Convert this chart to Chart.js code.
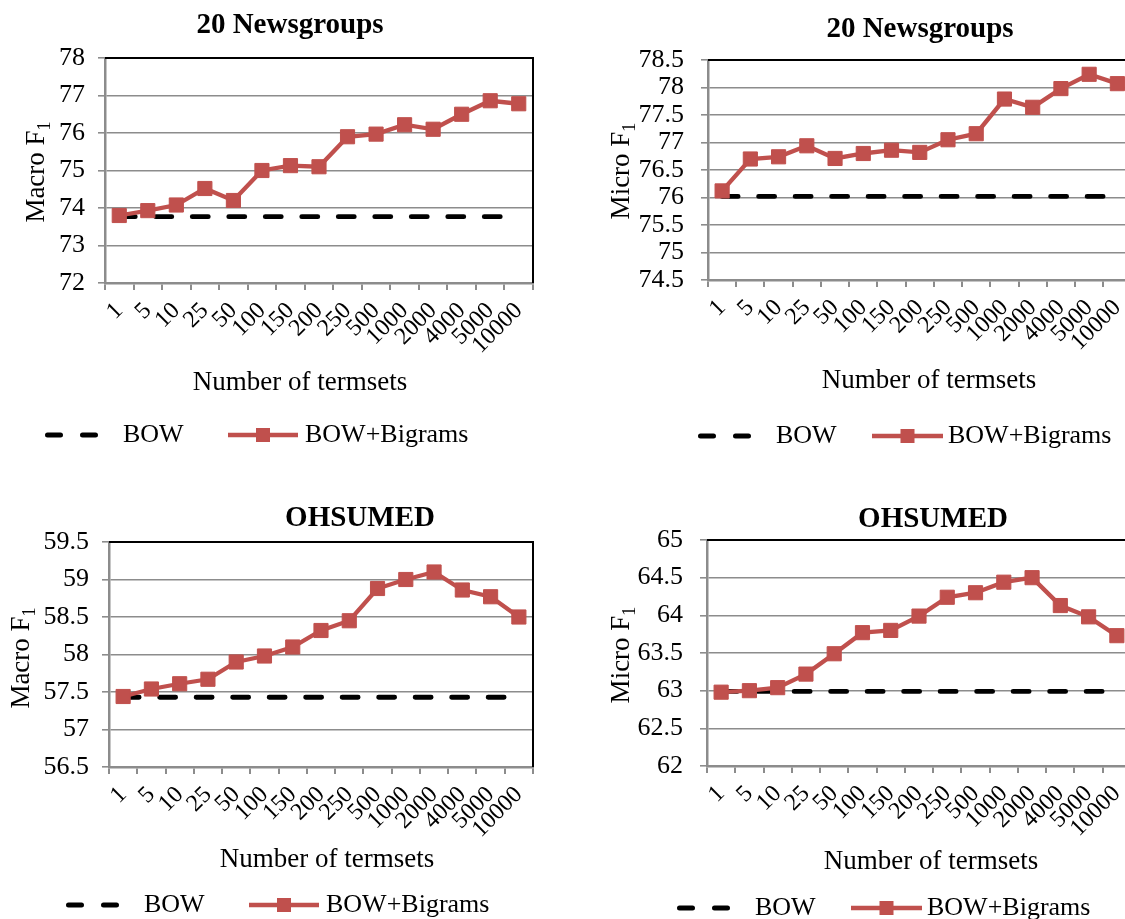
<!DOCTYPE html>
<html>
<head>
<meta charset="utf-8">
<title>Termset results</title>
<script src="https://cdn.jsdelivr.net/npm/chart.js@4.4.1/dist/chart.umd.min.js"></script>
<style>
  html, body { margin: 0; padding: 0; background: #fff; overflow: hidden; width: 1125px; height: 919px; position: relative; }
  canvas { position: absolute; }
</style>
</head>
<body>
<canvas id="ngMacro"></canvas>
<canvas id="ngMicro"></canvas>
<canvas id="ohMacro"></canvas>
<canvas id="ohMicro"></canvas>
<script>
// Number of termsets added (x categories, shared by all four panels)
const termsets = ['1', '5', '10', '25', '50', '100', '150', '200', '250', '500', '1000', '2000', '4000', '5000', '10000'];

// 20 Newsgroups, Macro F1
const ngMacroBigrams = [73.80, 73.93, 74.08, 74.52, 74.20, 75.00, 75.13, 75.10, 75.90, 75.97, 76.22, 76.10, 76.50, 76.86, 76.78];
const ngMacroBow = 73.77;
const ngMacroTicks = [72, 73, 74, 75, 76, 77, 78];

// 20 Newsgroups, Micro F1
const ngMicroBigrams = [76.12, 76.70, 76.74, 76.94, 76.71, 76.80, 76.86, 76.82, 77.05, 77.16, 77.79, 77.64, 77.98, 78.24, 78.07];
const ngMicroBow = 76.02;
const ngMicroTicks = [74.5, 75, 75.5, 76, 76.5, 77, 77.5, 78, 78.5];

// OHSUMED, Macro F1
const ohMacroBigrams = [57.44, 57.54, 57.61, 57.67, 57.90, 57.98, 58.10, 58.32, 58.45, 58.88, 59.00, 59.10, 58.86, 58.77, 58.50];
const ohMacroBow = 57.43;
const ohMacroTicks = [56.5, 57, 57.5, 58, 58.5, 59, 59.5];

// OHSUMED, Micro F1
const ohMicroBigrams = [62.98, 63.00, 63.04, 63.22, 63.49, 63.77, 63.80, 63.99, 64.24, 64.30, 64.44, 64.50, 64.13, 63.98, 63.73];
const ohMicroBow = 62.99;
const ohMicroTicks = [62, 62.5, 63, 63.5, 64, 64.5, 65];

const seriesNames = ['BOW', 'BOW+Bigrams'];
const xTitle = 'Number of termsets';

const SERIF = '"Liberation Serif", "Times New Roman", serif';
const RED = '#C0504D';
const GRID = '#8c8c8c';

// Page layout of each panel: canvas frame, plot rectangle and text anchors (page pixels)
const panels = [
  {
    id: 'ngMacro', title: '20 Newsgroups', yTitle: 'Macro F', values: ngMacroBigrams, bow: ngMacroBow, ticks: ngMacroTicks,
    frame: { x: 0, y: 0, w: 562, h: 460 },
    area: { left: 105, top: 58, right: 533, bottom: 283 },
    yTickPad: 13,
    titleAt: [290, 33], yTitleAt: [35, 172], xTitleAt: [300, 390],
    legend: { dash: 45, y: 435, base: 442, bowText: 123, lineFrom: 228, lineTo: 298, bigText: 305 }
  },
  {
    id: 'ngMicro', title: '20 Newsgroups', yTitle: 'Micro F', values: ngMicroBigrams, bow: ngMicroBow, ticks: ngMicroTicks,
    frame: { x: 562, y: 0, w: 600, h: 460 },
    area: { left: 708, top: 60, right: 1131.5, bottom: 280 },
    yTickPad: 17,
    titleAt: [920, 37], yTitleAt: [620, 171], xTitleAt: [929, 388],
    legend: { dash: 698, y: 436, base: 443, bowText: 776, lineFrom: 872, lineTo: 943, bigText: 948 }
  },
  {
    id: 'ohMacro', title: 'OHSUMED', yTitle: 'Macro F', values: ohMacroBigrams, bow: ohMacroBow, ticks: ohMacroTicks,
    frame: { x: 0, y: 460, w: 562, h: 459 },
    area: { left: 109, top: 542, right: 533, bottom: 767 },
    yTickPad: 13,
    titleAt: [360, 526], yTitleAt: [20, 658], xTitleAt: [327, 867],
    legend: { dash: 66, y: 905, base: 912, bowText: 144, lineFrom: 249, lineTo: 319, bigText: 326 }
  },
  {
    id: 'ohMicro', title: 'OHSUMED', yTitle: 'Micro F', values: ohMicroBigrams, bow: ohMicroBow, ticks: ohMicroTicks,
    frame: { x: 562, y: 460, w: 600, h: 459 },
    area: { left: 707, top: 540, right: 1131, bottom: 766 },
    yTickPad: 17,
    titleAt: [933, 527], yTitleAt: [620, 655], xTitleAt: [931, 869],
    legend: { dash: 677, y: 908, base: 915, bowText: 755, lineFrom: 851, lineTo: 922, bigText: 927 }
  }
];

// Plot frame, titles and the legend row, drawn in page coordinates shifted into each canvas
const panelDecor = {
  id: 'panelDecor',
  beforeDatasetsDraw(chart, args, o) {
    const { ctx, chartArea: a } = chart;
    ctx.save();
    ctx.strokeStyle = '#000';
    ctx.lineWidth = 2;
    ctx.beginPath();
    ctx.moveTo(a.left, a.top);
    ctx.lineTo(a.right, a.top);
    ctx.lineTo(a.right, a.bottom);
    ctx.stroke();
    ctx.restore();
  },
  afterDraw(chart, args, o) {
    const { ctx } = chart;
    const fx = o.frame.x, fy = o.frame.y;
    ctx.save();
    ctx.fillStyle = '#000';

    // chart title
    ctx.font = 'bold 29px ' + SERIF;
    ctx.textAlign = 'center';
    ctx.textBaseline = 'alphabetic';
    ctx.fillText(o.title, o.titleAt[0] - fx, o.titleAt[1] - fy);

    // x axis title
    ctx.font = '27px ' + SERIF;
    ctx.fillText(xTitle, o.xTitleAt[0] - fx, o.xTitleAt[1] - fy);

    // y axis title with subscript 1, rotated
    ctx.save();
    ctx.translate(o.yTitleAt[0] - fx, o.yTitleAt[1] - fy);
    ctx.rotate(-Math.PI / 2);
    ctx.textAlign = 'left';
    ctx.font = '27px ' + SERIF;
    const wMain = ctx.measureText(o.yTitle).width;
    ctx.font = '18px ' + SERIF;
    const wSub = ctx.measureText('1').width;
    const start = -(wMain + wSub) / 2;
    ctx.font = '27px ' + SERIF;
    ctx.fillText(o.yTitle, start, 9);
    ctx.font = '18px ' + SERIF;
    ctx.fillText('1', start + wMain, 15);
    ctx.restore();

    // legend row
    const L = o.legend;
    const ly = L.y - fy;
    ctx.save();
    ctx.strokeStyle = '#000';
    ctx.lineWidth = 5;
    ctx.lineCap = 'round';
    ctx.setLineDash([13, 22]);
    ctx.beginPath();
    ctx.moveTo(L.dash + 2.5 - fx, ly);
    ctx.lineTo(L.dash + 52 - fx, ly);
    ctx.stroke();
    ctx.setLineDash([]);
    ctx.strokeStyle = RED;
    ctx.lineWidth = 4.5;
    ctx.lineCap = 'butt';
    ctx.beginPath();
    ctx.moveTo(L.lineFrom - fx, ly);
    ctx.lineTo(L.lineTo - fx, ly);
    ctx.stroke();
    ctx.fillStyle = RED;
    const mx = (L.lineFrom + L.lineTo) / 2 - fx;
    ctx.fillRect(mx - 7, ly - 7, 14, 14);
    ctx.restore();

    ctx.font = '26px ' + SERIF;
    ctx.textAlign = 'left';
    ctx.textBaseline = 'alphabetic';
    ctx.fillStyle = '#000';
    ctx.fillText(seriesNames[0], L.bowText - fx, L.base - fy);
    ctx.fillText(seriesNames[1], L.bigText - fx, L.base - fy);
    ctx.restore();
  }
};

panels.forEach(p => {
  const cv = document.getElementById(p.id);
  cv.width = p.frame.w;
  cv.height = p.frame.h;
  cv.style.left = p.frame.x + 'px';
  cv.style.top = p.frame.y + 'px';
  cv.style.width = p.frame.w + 'px';
  cv.style.height = p.frame.h + 'px';

  const yWidth = p.area.left - p.frame.x;
  const xHeight = p.frame.y + p.frame.h - p.area.bottom;

  new Chart(cv, {
    type: 'line',
    data: {
      labels: termsets,
      datasets: [
        {
          label: seriesNames[1],
          data: p.values,
          borderColor: RED,
          backgroundColor: RED,
          borderWidth: 4.3,
          pointStyle: 'rect',
          pointRadius: 10,
          pointHoverRadius: 10,
          pointBorderWidth: 1,
          pointBackgroundColor: RED,
          pointBorderColor: RED,
          tension: 0,
          clip: false
        },
        {
          label: seriesNames[0],
          data: termsets.map(() => p.bow),
          borderColor: '#000',
          backgroundColor: '#000',
          borderWidth: 4.8,
          borderDash: [16, 20.5],
          borderCapStyle: 'round',
          pointRadius: 0,
          pointHoverRadius: 0,
          tension: 0,
          clip: false
        }
      ]
    },
    options: {
      responsive: false,
      animation: false,
      devicePixelRatio: 1,
      layout: {
        padding: { left: 0, top: p.area.top - p.frame.y, right: p.frame.x + p.frame.w - p.area.right, bottom: 0 }
      },
      plugins: {
        legend: { display: false },
        title: { display: false },
        tooltip: { enabled: false },
        panelDecor: p
      },
      scales: {
        x: {
          type: 'category',
          offset: true,
          afterFit(scale) { scale.height = xHeight; },
          grid: { offset: true, drawOnChartArea: false, drawTicks: true, tickLength: 7, color: GRID, lineWidth: 2 },
          border: { display: true, color: GRID, width: 2.5 },
          ticks: {
            autoSkip: false, minRotation: 45, maxRotation: 45, padding: 7,
            color: '#000', font: { family: SERIF, size: 24 }
          }
        },
        y: {
          min: p.ticks[0],
          max: p.ticks[p.ticks.length - 1],
          afterFit(scale) { scale.width = yWidth; },
          afterBuildTicks(scale) { scale.ticks = p.ticks.map(v => ({ value: v })); },
          grid: { color: GRID, lineWidth: 1.6, drawTicks: true, tickLength: 7 },
          border: { display: true, color: GRID, width: 2.5 },
          ticks: {
            autoSkip: false, padding: p.yTickPad, color: '#000', font: { family: SERIF, size: 26 },
            callback: v => String(v)
          }
        }
      }
    },
    plugins: [panelDecor]
  });
});
</script>
</body>
</html>
